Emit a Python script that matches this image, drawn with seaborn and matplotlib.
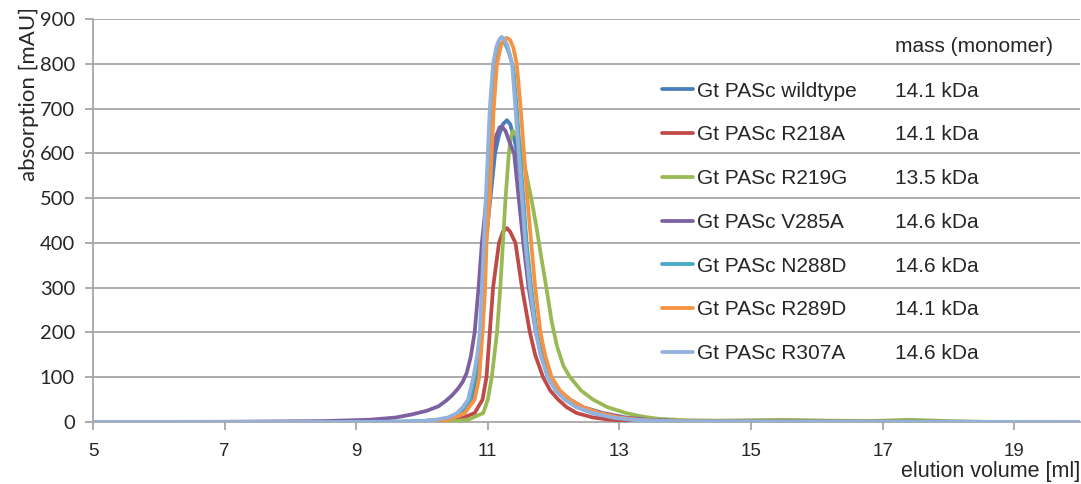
import matplotlib
matplotlib.use("Agg")
import matplotlib.pyplot as plt
import seaborn as sns
import pandas as pd

# ---------------- data ----------------
series_names = ["Gt PASc wildtype", "Gt PASc R218A", "Gt PASc R219G", "Gt PASc V285A",
                "Gt PASc N288D", "Gt PASc R289D", "Gt PASc R307A"]
masses = ["14.1 kDa", "14.1 kDa", "13.5 kDa", "14.6 kDa", "14.6 kDa", "14.1 kDa", "14.6 kDa"]
colors = ["#4A7EBB", "#BE4B48", "#98B954", "#7D60A0", "#46AAC5", "#F69240", "#92B2DC"]

wt_x = [5, 8, 9.8, 10.3, 10.6, 10.76, 10.83, 10.89, 10.93, 10.97, 11.04, 11.11, 11.17, 11.23, 11.29,
        11.34, 11.39, 11.45, 11.53, 11.58, 11.65, 11.74, 11.81, 11.92, 12.04, 12.18, 12.36, 12.6,
        12.9, 13.2, 13.6, 14.0, 15, 17, 20]
wt_y = [0, 0, 0, 5, 20, 50, 100, 200, 300, 400, 500, 600, 640, 665, 674,
        665, 640, 600, 500, 400, 300, 200, 150, 100, 70, 50, 33, 20,
        10, 5, 2.5, 1.5, 1, 0.5, 0]

r218a_x = [5, 8, 10.2, 10.55, 10.8, 10.92, 10.98, 11.03, 11.08, 11.17, 11.23, 11.29, 11.34, 11.42,
           11.52, 11.64, 11.72, 11.84, 11.95, 12.07, 12.2, 12.35, 12.6, 12.86, 13.3, 13.8, 15, 20]
r218a_y = [0, 0, 0, 5, 20, 50, 100, 200, 300, 400, 425, 433, 425, 400,
           300, 200, 150, 100, 70, 50, 33, 20, 10, 5, 2, 1, 0.5, 0]

r219g_x = [5, 8, 10.3, 10.7, 10.93, 11.0, 11.06, 11.14, 11.19, 11.23, 11.27, 11.32, 11.35, 11.38,
           11.44, 11.50, 11.57, 11.66, 11.74, 11.81, 11.89, 11.97, 12.05, 12.15, 12.25, 12.42, 12.6,
           12.82, 13.1, 13.35, 13.6, 14.0, 14.5, 15.0, 15.5, 16.2, 16.8, 17.4, 18.0, 18.7, 20]
r219g_y = [0, 0, 0, 5, 20, 50, 100, 200, 300, 400, 500, 600, 635, 650,
           640, 615, 565, 500, 435, 370, 300, 225, 170, 125, 100, 70, 50,
           33, 20, 12, 7, 4, 3, 4, 5, 3, 2, 5, 2, 0, 0]

v285a_x = [5, 7, 8.5, 9.2, 9.6, 9.85, 10.07, 10.25, 10.37, 10.46, 10.55, 10.62, 10.68, 10.74, 10.80,
           10.86, 10.91, 10.98, 11.07, 11.13, 11.18, 11.21, 11.27, 11.33, 11.40, 11.47, 11.54, 11.62,
           11.73, 11.82, 11.94, 12.08, 12.25, 12.45, 12.75, 13.1, 13.45, 13.9, 14.4, 15.5, 20]
v285a_y = [0, 0.5, 2, 5, 10, 17, 25, 35, 48, 60, 75, 90, 110, 145, 200,
           300, 400, 500, 600, 640, 658, 660, 650, 625, 600, 500, 400, 300,
           200, 150, 100, 70, 50, 33, 20, 10, 5, 2.5, 1.5, 1, 0]

n288d_x = [5, 8, 9.5, 10.0, 10.25, 10.45, 10.57, 10.65, 10.73, 10.80, 10.86, 10.90, 10.93, 10.96,
           10.99, 11.02, 11.06, 11.11, 11.16, 11.20, 11.23, 11.27, 11.32, 11.39, 11.44, 11.49, 11.54,
           11.59, 11.66, 11.74, 11.81, 11.92, 12.04, 12.18, 12.36, 12.6, 12.9, 13.2, 13.6, 14.0, 15, 17, 20]
n288d_y = [0, 0, 0.5, 2, 5, 10, 20, 33, 50, 100, 150, 200, 300, 400,
           500, 600, 700, 790, 830, 845, 848, 843, 825, 790, 700, 600, 500,
           400, 300, 200, 150, 100, 70, 50, 33, 20, 10, 5, 2.5, 1.5, 1, 0.5, 0]

r289d_x = [5, 8, 10.0, 10.4, 10.65, 10.80, 10.87, 10.92, 10.96, 10.98, 11.03, 11.06, 11.09, 11.14,
           11.20, 11.25, 11.29, 11.34, 11.39, 11.44, 11.50, 11.55, 11.60, 11.66, 11.72, 11.80, 11.87,
           11.97, 12.1, 12.25, 12.45, 12.7, 13.0, 13.3, 13.7, 14.1, 15, 17, 20]
r289d_y = [0, 0, 0, 5, 20, 50, 100, 200, 300, 400, 500, 600, 700, 800,
           840, 855, 858, 853, 835, 800, 700, 600, 500, 400, 300, 200, 150,
           100, 70, 50, 33, 20, 10, 5, 2.5, 1.5, 1, 0.5, 0]

r307a_x = [5, 8, 9.5, 10.0, 10.2, 10.4, 10.53, 10.62, 10.70, 10.78, 10.84, 10.88, 10.91, 10.94,
           10.97, 11.00, 11.03, 11.08, 11.13, 11.17, 11.21, 11.25, 11.30, 11.37, 11.42, 11.47, 11.52,
           11.57, 11.64, 11.73, 11.80, 11.91, 12.03, 12.17, 12.35, 12.6, 12.9, 13.2, 13.6, 14.0, 15, 17, 20]
r307a_y = [0, 0, 0.5, 2, 5, 10, 20, 33, 50, 100, 150, 200, 300, 400,
           500, 600, 700, 800, 838, 853, 860, 856, 840, 800, 700, 600, 500,
           400, 300, 200, 150, 100, 70, 50, 33, 20, 10, 5, 2.5, 1.5, 1, 0.5, 0]

xs = [wt_x, r218a_x, r219g_x, v285a_x, n288d_x, r289d_x, r307a_x]
ys = [wt_y, r218a_y, r219g_y, v285a_y, n288d_y, r289d_y, r307a_y]

x_ticks = [5, 7, 9, 11, 13, 15, 17, 19]
y_ticks = [0, 100, 200, 300, 400, 500, 600, 700, 800, 900]

# ---------------- figure ----------------
sns.set_style("white")
plt.rcParams["font.family"] = ["Liberation Sans", "DejaVu Sans"]

rows = []
for name, xv, yv in zip(series_names, xs, ys):
    for a, b in zip(xv, yv):
        rows.append({"volume": a, "absorption": b, "sample": name})
df = pd.DataFrame(rows)

W, H = 1081, 484
fig = plt.figure(figsize=(W / 100, H / 100), dpi=100)
ax = fig.add_axes([93 / W, 1 - 422 / H, 987 / W, 403 / H])

grid_c = "#A6A6A6"
for yt in y_ticks[1:]:
    ax.axhline(yt, color=grid_c, lw=1.3, zorder=0)

sns.lineplot(data=df, x="volume", y="absorption", hue="sample", hue_order=series_names,
             palette=colors, estimator=None, sort=True, lw=2.7, ax=ax, zorder=3)

ax.set_xlim(5, 20)
ax.set_ylim(0, 900)
ax.set_xticks(x_ticks)
ax.set_yticks(y_ticks)
ax.set_xticklabels([str(t) for t in x_ticks], fontsize=13.5, family=["Liberation Sans"])
ax.set_yticklabels([str(t) for t in y_ticks], fontsize=14.5, family=["Lato"])
for s in ["top", "right"]:
    ax.spines[s].set_visible(False)
for s in ["left", "bottom"]:
    ax.spines[s].set_color(grid_c)
    ax.spines[s].set_linewidth(1.3)
ax.tick_params(axis="both", which="major", length=6, width=1.3, color=grid_c,
               direction="out", bottom=True, left=True)
ax.tick_params(axis="y", pad=7)
ax.tick_params(axis="x", pad=9)
ax.set_ylabel("absorption [mAU]", fontsize=16, family=["Lato"], loc="top")
ax.yaxis.set_label_coords(-0.055, 1 + 12 / 403)
ax.set_xlabel("elution volume [ml]", fontsize=15.5, loc="right", labelpad=1)

def make_legend(y_anchor):
    lg = ax.legend(loc="upper left", bbox_to_anchor=(0.5765, y_anchor), frameon=False,
                   fontsize=15, handlelength=1.5, handletextpad=0.2, labelspacing=1.19,
                   borderpad=0, borderaxespad=0)
    for line in lg.get_lines():
        line.set_linewidth(2.7)
    return lg

y_anchor = 0.855
leg = make_legend(y_anchor)
fig.canvas.draw()
inv = ax.transAxes.inverted()
bb = leg.get_texts()[0].get_window_extent()
yc0 = inv.transform((0, (bb.y0 + bb.y1) / 2))[1]
target = 1 - (91 - 19) / 403
leg = make_legend(y_anchor + (target - yc0))
fig.canvas.draw()

mass_x = (895 - 93) / 987
for txt, m in zip(leg.get_texts(), masses):
    bb = txt.get_window_extent()
    yc = inv.transform((0, (bb.y0 + bb.y1) / 2))[1]
    ax.text(mass_x, yc, m, transform=ax.transAxes, fontsize=15, va="center", ha="left")
ax.text(mass_x, 1 - (46 - 19) / 403, "mass (monomer)", transform=ax.transAxes,
        fontsize=15, va="center", ha="left")

fig.savefig("out.png", dpi=100)
